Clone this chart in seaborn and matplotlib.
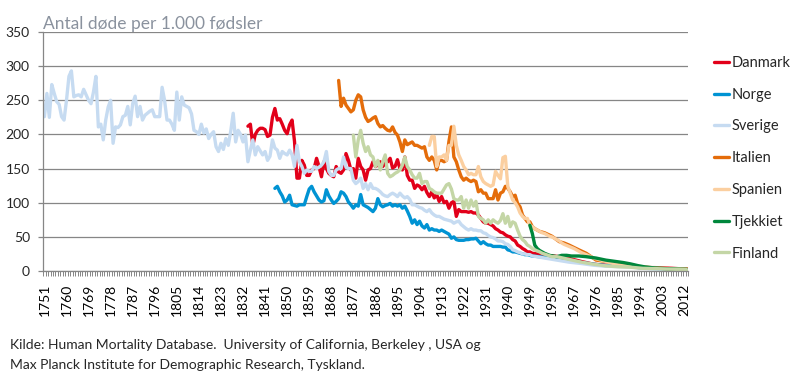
import matplotlib.pyplot as plt
import matplotlib.ticker as mticker
import pandas as pd
import seaborn as sns

# infant deaths per 1,000 births
SVERIGE_YEARS = list(range(1751, 1950)) + [1950, 1952, 1955, 1960, 1965, 1970, 1975, 1980, 1985, 1990, 1995, 2000, 2005, 2010, 2013]
SVERIGE = [
    226, 260, 225, 273, 260, 248, 244, 226, 221, 250, 285, 293, 255, 257, 258, 255, 266, 258, 250, 245,
    262, 285, 211, 215, 192, 221, 240, 250, 187, 211, 210, 214, 226, 228, 241, 214, 245, 256, 226, 241,
    221, 228, 231, 234, 236, 226, 226, 226, 269, 250, 221, 221, 215, 206, 262, 221, 255, 243, 241, 239,
    230, 206, 204, 200, 215, 202, 208, 194, 200, 204, 182, 175, 187, 178, 194, 184, 205, 231, 189, 206,
    200, 189, 199, 160, 177, 192, 170, 182, 176, 170, 175, 162, 168, 192, 180, 177, 165, 175, 172, 170,
    177, 170, 153, 184, 160, 153, 143, 148, 146, 146, 153, 150, 152, 155, 160, 175, 146, 140, 140, 148,
    150, 150, 167, 152, 150, 150, 133, 128, 131, 136, 121, 128, 119, 128, 121, 121, 119, 116, 112, 110,
    109, 112, 114, 112, 109, 114, 110, 107, 109, 105, 97, 97, 95, 93, 92, 89, 87, 90, 85, 82,
    80, 80, 78, 76, 75, 74, 73, 70, 72, 73, 68, 65, 62, 60, 62, 60, 60, 59, 59, 56,
    55, 52, 50, 49, 47, 44, 44, 43, 40, 39, 36, 31, 30, 28, 27, 25, 25, 24, 24,
    22, 21, 19, 16, 13, 11, 8.5, 7, 6.5, 6, 4, 3.4, 2.5, 2.5, 2.7,
]

DANMARK_YEARS = list(range(1834, 1950)) + [1950, 1952, 1955, 1960, 1965, 1970, 1975, 1980, 1985, 1990, 1995, 2000, 2005, 2010, 2013]
DANMARK = [
    212, 215, 184, 200, 206, 209, 209, 207, 197, 199, 225, 238, 221, 223, 215, 206, 201, 214, 221, 190,
    136, 136, 162, 155, 140, 140, 148, 150, 165, 153, 138, 160, 150, 143, 140, 138, 153, 145, 143, 148,
    172, 162, 148, 150, 136, 165, 153, 148, 133, 148, 150, 160, 153, 155, 160, 153, 158, 160, 165, 151,
    153, 163, 150, 148, 167, 140, 133, 133, 121, 126, 124, 119, 124, 115, 109, 116, 107, 112, 102, 109,
    100, 102, 92, 100, 102, 80, 90, 87, 87, 87, 86, 87, 85, 85, 82, 77, 72, 70, 70, 68,
    66, 62, 60, 57, 56, 53, 51, 50, 46, 44, 38, 36, 33, 31, 28, 28,
    26, 25, 23, 21.5, 18.5, 14, 10, 8.5, 8, 7.5, 5, 5, 4.4, 3.4, 3.5,
]

NORGE_YEARS = list(range(1845, 1951)) + [1953, 1955, 1960, 1965, 1970, 1975, 1980, 1985, 1990, 1995, 2000, 2005, 2010, 2013]
NORGE = [
    121, 124, 116, 110, 101, 104, 111, 97, 96, 95, 97, 97, 97, 109, 120, 124, 116, 110, 104, 101,
    103, 119, 110, 104, 99, 102, 106, 116, 114, 109, 101, 97, 92, 97, 95, 112, 97, 95, 93, 90,
    87, 92, 106, 97, 94, 96, 97, 99, 95, 97, 95, 97, 92, 95, 88, 80, 70, 75, 68, 73,
    66, 63, 68, 60, 62, 60, 60, 58, 60, 58, 56, 54, 48, 50, 46, 45, 45, 45, 46, 46,
    47, 47, 48, 44, 40, 43, 40, 38, 38, 36, 36, 36, 36, 35, 35, 31, 30, 28, 28, 27,
    26, 25, 24, 24, 23, 22,
    21, 20, 18.5, 16, 12.5, 10, 8, 8, 7, 4, 3.8, 3, 2.7, 2.3,
]

ITALIEN_YEARS = list(range(1871, 1954)) + [1955, 1958, 1961, 1963, 1965, 1969, 1972, 1976, 1980, 1985, 1990, 1995, 2000, 2005, 2010, 2013]
ITALIEN = [
    279, 241, 253, 243, 238, 233, 236, 250, 258, 255, 236, 225, 219, 221, 224, 226, 216, 211, 213, 209,
    206, 205, 211, 203, 199, 189, 175, 192, 185, 187, 189, 184, 184, 182, 180, 182, 167, 162, 167, 162,
    148, 162, 162, 160, 162, 190, 211, 167, 160, 148, 138, 133, 136, 133, 131, 133, 131, 116, 119, 114,
    114, 106, 106, 106, 119, 104, 114, 116, 124, 121, 116, 109, 111, 99, 94, 82, 77, 72, 72, 65,
    62, 60, 58,
    56, 51, 43, 41, 38, 31, 26, 16, 14, 10, 8, 6, 4.5, 3.5, 3.2, 3,
]

SPANIEN_YEARS = list(range(1908, 1964)) + [1965, 1967, 1970, 1972, 1975, 1980, 1985, 1990, 1995, 2000, 2005, 2010, 2013]
SPANIEN = [
    184, 197, 197, 153, 167, 167, 170, 162, 184, 184, 212, 184, 170, 162, 153, 148, 141, 143, 141, 141,
    153, 138, 131, 128, 126, 124, 126, 146, 140, 135, 166, 168, 124, 114, 104, 100, 94, 85, 80, 77,
    77, 67, 65, 62, 60, 58, 56, 55, 53, 51, 50, 48, 46, 44, 41, 39,
    36, 33, 27, 24, 19, 14, 9, 7.5, 5.5, 4.2, 3.8, 3.2, 2.7,
]

TJEKKIET_YEARS = [1949, 1950, 1951, 1952, 1953, 1954, 1955, 1957, 1960, 1962, 1964, 1966, 1969, 1972, 1976, 1980, 1984, 1987, 1990, 1993, 1996, 2000, 2005, 2010, 2013]
TJEKKIET = [67, 55, 38, 33, 30, 28, 26, 23, 21, 23, 23, 22, 22, 21, 19, 16, 14, 12.5, 10.5, 8, 6, 4.5, 3.4, 2.7, 2.5]

FINLAND_YEARS = list(range(1877, 1952)) + [1953, 1954, 1958, 1960, 1965, 1970, 1975, 1980, 1985, 1990, 1995, 2000, 2005, 2010, 2013]
FINLAND = [
    199, 167, 192, 206, 187, 175, 182, 170, 167, 153, 162, 148, 160, 170, 143, 138, 140, 143, 145, 148,
    155, 167, 153, 148, 141, 136, 136, 143, 128, 131, 131, 121, 119, 116, 114, 114, 114, 120, 126, 128,
    120, 106, 104, 104, 109, 92, 104, 92, 104, 95, 102, 80, 77, 75, 70, 75, 70, 75, 72, 70,
    74, 84, 70, 80, 65, 72, 70, 60, 51, 46, 43, 38, 36, 33, 31,
    28, 26, 21, 21, 17, 13, 10, 7.5, 6.3, 5.6, 4, 3.6, 3, 2.3, 2,
]

SERIES = [
    ("Danmark", DANMARK_YEARS, DANMARK, "#E2001A"),
    ("Norge", NORGE_YEARS, NORGE, "#0093D3"),
    ("Sverige", SVERIGE_YEARS, SVERIGE, "#C6DBF1"),
    ("Italien", ITALIEN_YEARS, ITALIEN, "#E46C0A"),
    ("Spanien", SPANIEN_YEARS, SPANIEN, "#FBCFA0"),
    ("Tjekkiet", TJEKKIET_YEARS, TJEKKIET, "#00873C"),
    ("Finland", FINLAND_YEARS, FINLAND, "#C4D6A6"),
]

TICK_YEARS = list(range(1751, 2014, 9))
GRAY = "#868686"

sns.set_theme(style="white")
plt.rcParams["font.family"] = ["Lato", "DejaVu Sans"]

fig = plt.figure(figsize=(8, 3.85), dpi=100)
ax = fig.add_axes([0.054, 0.296, 0.806, 0.621])

for name, years, values, color in SERIES:
    frame = pd.DataFrame({"year": years, "value": values})
    sns.lineplot(data=frame, x="year", y="value", ax=ax, color=color,
                 linewidth=2.4, label=name, estimator=None, sort=False)

# axes limits and grid
ax.set_xlim(1750.5, 2013.5)
ax.set_ylim(0, 350)
ax.yaxis.set_major_locator(mticker.MultipleLocator(50))
ax.grid(axis="y", color=GRAY, linewidth=0.9)
ax.set_axisbelow(True)
for side in ["top", "right"]:
    ax.spines[side].set_visible(False)
for side in ["left", "bottom"]:
    ax.spines[side].set_color(GRAY)
    ax.spines[side].set_linewidth(0.9)

# category style x axis
ax.xaxis.set_major_locator(mticker.FixedLocator(TICK_YEARS))
ax.set_xticklabels([str(y) for y in TICK_YEARS], rotation=90)
ax.xaxis.set_minor_locator(mticker.MultipleLocator(1, offset=0.5))
ax.tick_params(axis="x", which="major", length=0, pad=9, labelsize=10, colors="black")
ax.tick_params(axis="x", which="minor", bottom=True, length=3.6, width=0.7, color=GRAY)
ax.tick_params(axis="y", length=3.6, width=0.9, color=GRAY, pad=6, labelsize=10, left=True)
ax.set_xlabel("")
ax.set_ylabel("")

ax.legend(loc="upper left", bbox_to_anchor=(0.8925, 0.855), bbox_transform=fig.transFigure,
          frameon=False, fontsize=10.5, handlelength=1.0, handletextpad=0.2,
          labelspacing=1.22, borderpad=0, borderaxespad=0)

fig.text(0.054, 1 - 29 / 385, "Antal døde per 1.000 fødsler", fontsize=12.5,
         color="#8A929E", va="baseline")
fig.text(0.0125, 1 - 349 / 385,
         "Kilde: Human Mortality Database.  University of California, Berkeley , USA og",
         fontsize=10, va="baseline")
fig.text(0.0125, 1 - 369 / 385,
         "Max Planck Institute for Demographic Research, Tyskland.",
         fontsize=10, va="baseline")

fig.savefig("out.png", dpi=100)
